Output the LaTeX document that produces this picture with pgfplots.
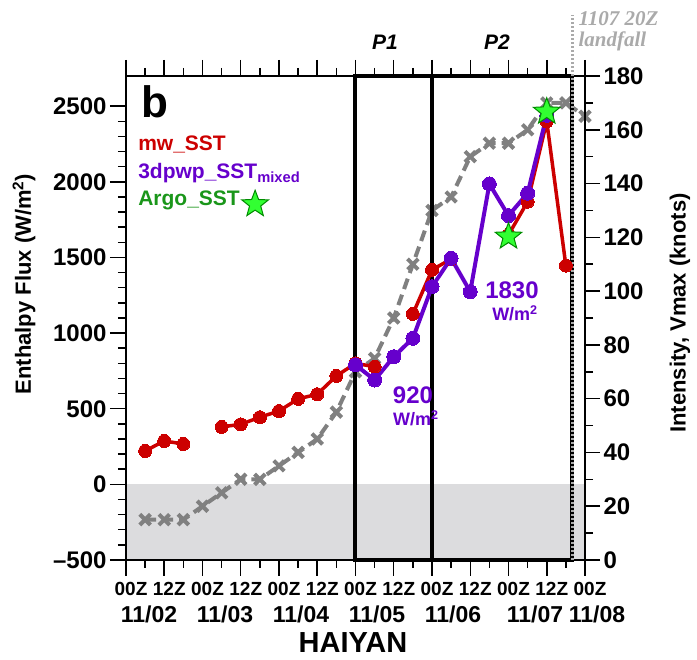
\documentclass[border=0pt]{standalone}
\usepackage{fontspec}
\setmainfont{Liberation Sans}
\newfontfamily\lserif{Liberation Serif}
\usepackage{pgfplots}
\pgfplotsset{compat=1.18}
\definecolor{mwred}{RGB}{204,0,0}
\definecolor{dpurple}{RGB}{102,0,204}
\definecolor{agreen}{RGB}{26,150,26}
\definecolor{starfill}{RGB}{50,255,50}
\definecolor{staredge}{RGB}{0,140,0}
\definecolor{xgray}{RGB}{128,128,128}
\definecolor{bgshade}{RGB}{220,220,222}
\definecolor{lfgray}{RGB}{170,170,170}
\pgfdeclareplotmark{fstar}{%
  \pgfpathmoveto{\pgfpointpolar{90}{\pgfplotmarksize}}%
  \pgfpathlineto{\pgfpointpolar{126}{0.42\pgfplotmarksize}}%
  \pgfpathlineto{\pgfpointpolar{162}{\pgfplotmarksize}}%
  \pgfpathlineto{\pgfpointpolar{198}{0.42\pgfplotmarksize}}%
  \pgfpathlineto{\pgfpointpolar{234}{\pgfplotmarksize}}%
  \pgfpathlineto{\pgfpointpolar{270}{0.42\pgfplotmarksize}}%
  \pgfpathlineto{\pgfpointpolar{306}{\pgfplotmarksize}}%
  \pgfpathlineto{\pgfpointpolar{342}{0.42\pgfplotmarksize}}%
  \pgfpathlineto{\pgfpointpolar{18}{\pgfplotmarksize}}%
  \pgfpathlineto{\pgfpointpolar{54}{0.42\pgfplotmarksize}}%
  \pgfpathclose
  \pgfusepathqfillstroke
}
\pgfplotstableread{
t v
6 221
12 287
18 267
24 nan
30 380
36 397
42 444
48 485
54 565
60 596
66 717
72 800
78 778
84 nan
90 1127
96 1418
102 1490
108 nan
114 nan
120 1650
126 1869
132 2400
138 1446
}\mwtab
\pgfplotstableread{
t v
72 790
78 690
84 844
90 966
96 1307
102 1495
108 1274
114 1986
120 1777
126 1925
132 2440
}\dptab
\pgfplotstableread{
t v
120 1638
132 2464
}\argotab
\pgfplotstableread{
t k
6 15
12 15
18 15
24 20
30 25
36 30
42 30
48 35
54 40
60 45
66 55
72 70
78 75
84 90
90 110
96 130
102 135
108 150
114 155
120 155
126 160
132 170
138 170
144 165
}\vmaxtab
\begin{document}
\begin{tikzpicture}
\path[use as bounding box] (-126pt,-100pt) rectangle (571pt,560pt);
% knots axis (drawn first, behind)
\begin{axis}[
  at={(0pt,0pt)}, anchor=south west, scale only axis,
  width=459pt, height=484pt,
  xmin=0, xmax=144, ymin=0, ymax=180,
  axis x line=none, axis y line*=right,
  ytick={0,20,...,180}, minor y tick num=1,
  tick align=outside, major tick length=15pt, minor tick length=8pt,
  axis line style={line width=1.5pt},
  tick style={line width=1.5pt, black},
  yticklabel style={font=\fontsize{24}{28}\selectfont\bfseries},
  /pgf/number format/assume math mode=true,
  clip=false,
]
\fill[bgshade] (axis cs:0,0) rectangle (axis cs:144,28.125);
\addplot[xgray, line width=4pt, dash pattern=on 11pt off 6pt, mark=x, mark size=7.5pt, mark options={solid, line width=4pt}] table[x=t, y=k] {\vmaxtab};
\end{axis}
% flux axis
\begin{axis}[
  at={(0pt,0pt)}, anchor=south west, scale only axis,
  width=459pt, height=484pt,
  xmin=0, xmax=144, ymin=-500, ymax=2700,
  xtick={0,12,...,144},
  xticklabels={00Z,12Z,00Z,12Z,00Z,12Z,00Z,12Z,00Z,12Z,00Z,12Z,00Z},
  minor x tick num=1,
  ytick={-500,0,500,1000,1500,2000,2500},
  yticklabels={\textendash500,0,500,1000,1500,2000,2500},
  minor y tick num=4,
  xtick pos=both, ytick pos=left,
  tick align=outside, major tick length=16pt, minor tick length=8pt,
  axis line style={line width=1.5pt},
  tick style={line width=1.5pt, black},
  xticklabel style={font=\fontsize{19}{22}\selectfont\bfseries, xshift=5pt, yshift=-3pt},
  yticklabel style={font=\fontsize{24}{28}\selectfont\bfseries},
  /pgf/number format/assume math mode=true,
  unbounded coords=jump, clip=false,
  legend style={at={(0.022,0.88)}, anchor=north west, draw=none, fill=none, inner sep=0pt,
    font=\fontsize{21}{25}\selectfont\bfseries, row sep=7pt},
  legend cell align=left, legend plot pos=right,
]
\addlegendimage{empty legend}\addlegendentry[text=mwred]{mw\_SST}
\addlegendimage{empty legend}\addlegendentry[text=dpurple]{\makebox[0pt][l]{3dpwp\_SST\textsubscript{mixed}}}
\addlegendimage{only marks, mark=fstar, mark size=14pt, mark options={fill=starfill, draw=staredge, line width=1pt, yshift=-5pt}}\addlegendentry[text=agreen]{Argo\_SST\hspace{5pt}}
\draw[line width=4pt] (axis cs:72,-500) rectangle (axis cs:140,2700);
\draw[line width=4pt] (axis cs:96,-500) -- (axis cs:96,2700);
\draw[lfgray, line width=2.5pt, dash pattern=on 2pt off 2pt] (axis cs:140,-500) -- (axis cs:140,3100);
\addplot[mwred, line width=3.5pt, mark=*, mark size=6.5pt, mark options={solid, fill=mwred, draw=mwred, line width=0pt}] table[x=t, y=v] {\mwtab};
\addplot[dpurple, line width=4pt, mark=*, mark size=7pt, mark options={solid, fill=dpurple, draw=dpurple, line width=0pt}] table[x=t, y=v] {\dptab};
\addplot[only marks, mark=fstar, mark size=14pt, mark options={fill=starfill, draw=staredge, line width=1pt}] table[x=t, y=v] {\argotab};
\end{axis}
% text
\node[font=\fontsize{44}{50}\selectfont\bfseries] at (29pt,458pt) {b};
\foreach \x/\d in {23/{11/02}, 99/{11/03}, 175/{11/04}, 251/{11/05}, 327/{11/06}, 409/{11/07}, 471/{11/08}}
  \node[font=\fontsize{23}{27}\selectfont\bfseries] at (\x pt,-54pt) {\d};
\node[inner sep=0pt, font=\fontsize{29}{33}\selectfont\bfseries] at (227pt,-83pt) {HAIYAN};
\node[rotate=90, font=\fontsize{22}{26}\selectfont\bfseries] at (-102pt,276pt) {Enthalpy Flux (W/m\textsuperscript{2})};
\node[rotate=90, font=\fontsize{22}{26}\selectfont\bfseries] at (554pt,247pt) {Intensity, Vmax (knots)};
\node[font=\fontsize{21}{25}\selectfont\bfseries\itshape] at (259pt,518pt) {P1};
\node[font=\fontsize{21}{25}\selectfont\bfseries\itshape] at (371pt,518pt) {P2};
\node[anchor=west, align=left, text=lfgray, font=\lserif\fontsize{21}{21}\selectfont\bfseries\itshape] at (449pt,529pt) {1107 20Z\\landfall};
\node[inner sep=1pt, text=dpurple, font=\fontsize{24}{28}\selectfont\bfseries] at (287pt,165pt) {920};
\node[inner sep=1pt, text=dpurple, font=\fontsize{18}{21}\selectfont\bfseries] at (290pt,142pt) {W/m\textsuperscript{2}};
\node[inner sep=1pt, text=dpurple, font=\fontsize{24}{28}\selectfont\bfseries] at (386pt,270pt) {1830};
\node[inner sep=1pt, text=dpurple, font=\fontsize{18}{21}\selectfont\bfseries] at (389pt,247pt) {W/m\textsuperscript{2}};
\end{tikzpicture}
\end{document}
